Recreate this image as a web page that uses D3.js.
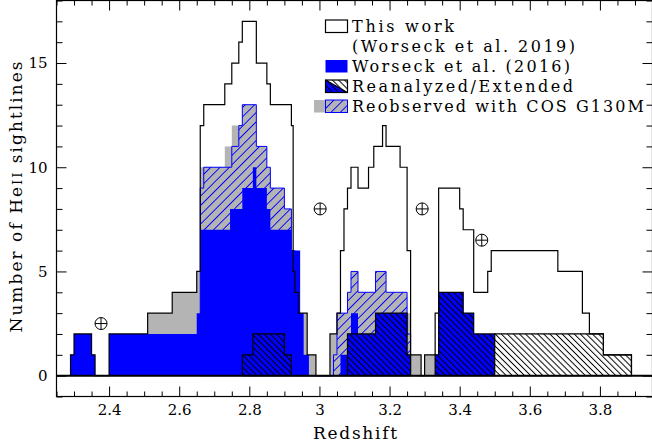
<!DOCTYPE html>
<html><head><meta charset="utf-8">
<script src="https://cdn.jsdelivr.net/npm/d3@7"></script>
<style>html,body{margin:0;padding:0;background:#fff;} svg{display:block;}</style>
</head><body>
<svg id="chart" width="652" height="445"></svg>
<script>
// Step histograms of He II sightline coverage: bin edges in redshift, counts per bin.
const totalEdges  = [2.29, 2.30, 2.35, 2.36, 2.40, 2.51, 2.58, 2.65, 2.66, 2.67, 2.73, 2.75, 2.77, 2.78, 2.82, 2.85, 2.86, 2.92, 2.925, 2.93, 2.94, 2.965, 2.99, 3.03, 3.05, 3.06, 3.07, 3.08, 3.09, 3.11, 3.14, 3.155, 3.18, 3.19, 3.23, 3.25, 3.26, 3.29, 3.30, 3.33, 3.34, 3.40, 3.41, 3.44, 3.48, 3.49, 3.68, 3.75, 3.77, 3.81, 3.89];
const totalCounts = [1, 2, 1, 0, 2, 3, 4, 5, 12, 13, 14, 15, 16, 17, 15, 14, 13, 12, 5, 4, 3, 1, 0, 2, 3, 6, 8, 9, 10, 9, 10, 11, 12, 11, 10, 6, 1, 0, 1, 3, 9, 8, 7, 4, 5, 6, 5, 3, 2, 1];

// Worseck et al. (2016) sample (solid)
const w2016Edges  = [2.29, 2.30, 2.35, 2.36, 2.40, 2.65, 2.66, 2.745, 2.78, 2.81, 2.82, 2.85, 2.86, 2.92, 2.945, 2.955, 2.97, 3.06, 3.08, 3.09, 3.11, 3.16, 3.25, 3.26, 3.33, 3.34, 3.41, 3.44, 3.50];
const w2016Counts = [1, 2, 1, 0, 2, 3, 7, 8, 9, 10, 9, 8, 7, 6, 3, 1, 0, 1, 2, 3, 2, 3, 1, 0, 1, 4, 3, 2];

// Reobserved with COS G130M (all, grey)
const reobsEdges  = [2.40, 2.51, 2.58, 2.65, 2.66, 2.73, 2.75, 2.78, 2.82, 2.85, 2.86, 2.90, 2.92, 2.93, 2.94, 2.965, 2.99, 3.03, 3.05, 3.26, 3.29, 3.30, 3.33];
const reobsCounts = [2, 3, 4, 5, 10, 11, 12, 13, 11, 10, 9, 8, 6, 4, 3, 1, 0, 2, 3, 1, 0, 1];

// Reobserved sightlines already in the 2016 sample (hatched)
const reobs16Edges  = [2.66, 2.67, 2.75, 2.77, 2.78, 2.82, 2.85, 2.86, 2.90, 2.92, 2.93, 2.94, 3.04, 3.05, 3.08, 3.09, 3.11, 3.16, 3.19, 3.25, 3.26];
const reobs16Counts = [9, 10, 11, 12, 13, 11, 10, 9, 8, 6, 4, 0, 1, 3, 4, 5, 4, 5, 4, 2];

// Reanalyzed sightlines (within 2016 coverage) and extended coverage
const reanEdges  = [2.78, 2.81, 2.90, 2.92, 3.08, 3.16, 3.25, 3.26, 3.33, 3.34, 3.41, 3.44, 3.50];
const reanCounts = [1, 2, 1, 0, 2, 3, 1, 0, 1, 4, 3, 2];
const extEdges   = [3.50, 3.81, 3.89];
const extCounts  = [2, 1];

// Geocoronal emission line positions (redshift, marker height)
const earthZ = [2.377, 3.002, 3.293, 3.463];
const earthN = [2.5, 8, 8, 6.5];

const xMajor = [2.4, 2.6, 2.8, 3.0, 3.2, 3.4, 3.6, 3.8];
const yMajor = [0, 5, 10, 15];
const legendLines = ["This work", "(Worseck et al. 2019)", "Worseck et al. (2016)", "Reanalyzed/Extended", "Reobserved with COS G130M"];

const BLUE = "#0000ff", GREY = "#b4b4b4";
const FONT = "'DejaVu Serif', serif";

const svg = d3.select("#chart");
const x = d3.scaleLinear().domain([2.25, 3.95]).range([56.5, 652.5]);
const y = d3.scaleLinear().domain([-1, 18]).range([396.5, 0.5]);

const defs = svg.append("defs");
defs.append("clipPath").attr("id", "plotClip").append("rect")
  .attr("x", x(2.25)).attr("y", y(18)).attr("width", x(3.95) - x(2.25)).attr("height", y(-1) - y(18));

function hatch(id, color, bg, spacing, angle, width) {
  const p = defs.append("pattern").attr("id", id).attr("patternUnits", "userSpaceOnUse")
    .attr("width", spacing).attr("height", spacing)
    .attr("patternTransform", `rotate(${angle})`);
  p.append("rect").attr("width", spacing).attr("height", spacing).attr("fill", bg);
  p.append("line").attr("x1", spacing / 2).attr("x2", spacing / 2).attr("y1", -1).attr("y2", spacing + 1)
    .attr("stroke", color).attr("stroke-width", width);
}
hatch("hBlueGrey", BLUE, GREY, 6.6, 45, 1);
hatch("hBlackBlue", "#000", BLUE, 4.3, -45, 1);
hatch("hBlackWhite", "#000", "#fff", 4.3, -45, 1);

function steps(edges, counts) {
  const pts = [[edges[0], 0]];
  counts.forEach((c, i) => pts.push([edges[i], c]));
  pts.push([edges[edges.length - 1], counts[counts.length - 1]]);
  pts.push([edges[edges.length - 1], 0]);
  return pts;
}
const area = d3.area().x(d => x(d[0])).y0(y(0)).y1(d => y(d[1])).curve(d3.curveStepAfter);
const line = d3.line().x(d => x(d[0])).y(d => y(d[1])).curve(d3.curveStepAfter);

const plot = svg.append("g").attr("clip-path", "url(#plotClip)");

// grey: all reobserved sightlines
plot.append("path").attr("d", area(steps(reobsEdges, reobsCounts))).attr("fill", GREY);
// hatched: reobserved sightlines from the 2016 sample
plot.append("path").attr("d", area(steps(reobs16Edges, reobs16Counts)))
  .attr("fill", "url(#hBlueGrey)").attr("stroke", BLUE).attr("stroke-width", 1);
// solid blue: 2016 sample
plot.append("path").attr("d", area(steps(w2016Edges, w2016Counts))).attr("fill", BLUE);
// reanalyzed / extended
plot.append("path").attr("d", area(steps(reanEdges, reanCounts)))
  .attr("fill", "url(#hBlackBlue)").attr("stroke", "#000").attr("stroke-width", 1.2);
plot.append("path").attr("d", area(steps(extEdges, extCounts)))
  .attr("fill", "url(#hBlackWhite)").attr("stroke", "#000").attr("stroke-width", 1.2);
// total: this work
plot.append("path").attr("d", line(steps(totalEdges, totalCounts)))
  .attr("fill", "none").attr("stroke", "#000").attr("stroke-width", 1.2);
// zero line
plot.append("line").attr("x1", x(2.25)).attr("x2", x(3.95)).attr("y1", y(0)).attr("y2", y(0))
  .attr("stroke", "#000").attr("stroke-width", 2);

// geocoronal line markers
const mk = svg.append("g").attr("stroke", "#000").attr("stroke-width", 1).attr("fill", "none");
earthZ.forEach((z, i) => {
  const cx = x(z), cy = y(earthN[i]), r = 6;
  mk.append("circle").attr("cx", cx).attr("cy", cy).attr("r", r);
  mk.append("line").attr("x1", cx - r).attr("x2", cx + r).attr("y1", cy).attr("y2", cy);
  mk.append("line").attr("x1", cx).attr("x2", cx).attr("y1", cy - r).attr("y2", cy + r);
});

// axes: ticks on all four sides, pointing inward
const xMinor = d3.range(2.25, 3.951, 0.05).map(v => +v.toFixed(2)).filter(v => !xMajor.some(m => Math.abs(m - v) < 1e-6));
const yMinor = d3.range(-1, 18.01, 1).filter(v => !yMajor.includes(v));
const fmtX = d => d === 3 ? "3" : d3.format(".1f")(d);

svg.append("g").attr("transform", `translate(0,${y(-1)})`)
  .call(d3.axisBottom(x).tickValues(xMajor).tickSize(-10).tickSizeOuter(0).tickPadding(8).tickFormat(fmtX));
svg.append("g").attr("transform", `translate(0,${y(-1)})`)
  .call(d3.axisBottom(x).tickValues(xMinor).tickSize(-5).tickSizeOuter(0).tickFormat(""));
svg.append("g").attr("transform", `translate(0,${y(18)})`)
  .call(d3.axisTop(x).tickValues(xMajor).tickSize(-10).tickSizeOuter(0).tickFormat(""));
svg.append("g").attr("transform", `translate(0,${y(18)})`)
  .call(d3.axisTop(x).tickValues(xMinor).tickSize(-5).tickSizeOuter(0).tickFormat(""));
svg.append("g").attr("transform", `translate(${x(2.25)},0)`)
  .call(d3.axisLeft(y).tickValues(yMajor).tickSize(-10).tickSizeOuter(0).tickPadding(9));
svg.append("g").attr("transform", `translate(${x(2.25)},0)`)
  .call(d3.axisLeft(y).tickValues(yMinor).tickSize(-6).tickSizeOuter(0).tickFormat(""));
svg.append("g").attr("transform", `translate(${x(3.95)},0)`)
  .call(d3.axisRight(y).tickValues(yMajor).tickSize(-10).tickSizeOuter(0).tickFormat(""));
svg.append("g").attr("transform", `translate(${x(3.95)},0)`)
  .call(d3.axisRight(y).tickValues(yMinor).tickSize(-6).tickSizeOuter(0).tickFormat(""));
svg.selectAll(".domain").remove();
svg.selectAll(".tick line").attr("stroke", "#000").attr("stroke-width", 1);
svg.selectAll(".tick text").attr("font-family", FONT).attr("font-size", 15).attr("fill", "#000");

// frame
svg.append("rect").attr("x", x(2.25)).attr("y", y(18)).attr("width", x(3.95) - x(2.25)).attr("height", y(-1) - y(18))
  .attr("fill", "none").attr("stroke", "#000").attr("stroke-width", 1.2);

// axis titles
svg.append("text").attr("x", 355).attr("y", 439).attr("text-anchor", "middle")
  .attr("font-family", FONT).attr("font-size", 17).attr("textLength", 84).text("Redshift");
const yt = svg.append("text").attr("transform", "translate(22,197) rotate(-90)").attr("text-anchor", "middle")
  .attr("font-family", FONT).attr("font-size", 17).attr("textLength", 271);
yt.append("tspan").text("Number of He");
yt.append("tspan").attr("font-size", 13).text("II");
yt.append("tspan").text(" sightlines");

// legend
const lg = svg.append("g");
const lx = 325.5, sw = 22, sh = 12.5;
const rowY = [20, 40, 60, 80, 100];
lg.append("rect").attr("x", lx).attr("y", rowY[0]).attr("width", sw).attr("height", sh)
  .attr("fill", "#fff").attr("stroke", "#000").attr("stroke-width", 1.2);
lg.append("rect").attr("x", lx).attr("y", rowY[2]).attr("width", sw).attr("height", sh).attr("fill", BLUE);
// reanalyzed/extended swatch: blue part and white part, both hatched
const r3 = rowY[3];
lg.append("rect").attr("x", lx).attr("y", r3).attr("width", sw).attr("height", sh).attr("fill", "url(#hBlackWhite)");
lg.append("path").attr("d", `M${lx},${r3} L${lx},${r3 + sh} L${lx + sw},${r3 + sh} Z`).attr("fill", "url(#hBlackBlue)");
lg.append("line").attr("x1", lx).attr("y1", r3).attr("x2", lx + sw).attr("y2", r3 + sh).attr("stroke", "#000").attr("stroke-width", 1.2);
lg.append("rect").attr("x", lx).attr("y", r3).attr("width", sw).attr("height", sh)
  .attr("fill", "none").attr("stroke", "#000").attr("stroke-width", 1.2);
// reobserved swatch: grey plus hatched grey
const r4 = rowY[4];
lg.append("rect").attr("x", lx - 11.5).attr("y", r4).attr("width", 11.5).attr("height", sh).attr("fill", GREY);
lg.append("rect").attr("x", lx).attr("y", r4).attr("width", sw).attr("height", sh)
  .attr("fill", "url(#hBlueGrey)").attr("stroke", BLUE).attr("stroke-width", 1);

const textW = [102, 223, 218, 221, 292];
legendLines.forEach((t, i) => {
  lg.append("text").attr("x", 352).attr("y", rowY[i] + 11.8)
    .attr("font-family", FONT).attr("font-size", 16).attr("textLength", textW[i])
    .attr("lengthAdjust", "spacing").text(t);
});
</script>
</body></html>
